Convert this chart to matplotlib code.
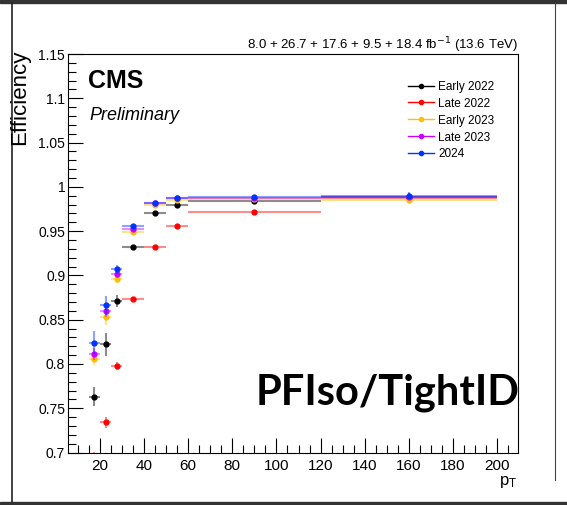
import numpy as np
import matplotlib
matplotlib.use('Agg')
from matplotlib import pyplot as plt
from matplotlib.lines import Line2D
from matplotlib.patches import Rectangle
from matplotlib.ticker import MultipleLocator

plt.rcParams['font.family'] = ['Liberation Sans', 'DejaVu Sans']

# pT bins
bin_edges = [15, 20, 25, 30, 40, 50, 60, 120, 200]

labels = ['Early 2022', 'Late 2022', 'Early 2023', 'Late 2023', '2024']
colors = ['#000000', '#ff0000', '#ffc000', '#cc00ff', '#0033ff']

early_2022 = [0.763, 0.822, 0.871, 0.932, 0.971, 0.980, 0.984, 0.989]
late_2022 = [0.685, 0.734, 0.798, 0.873, 0.932, 0.956, 0.9715, 0.987]
early_2023 = [0.806, 0.853, 0.896, 0.9485, 0.980, 0.985, 0.986, 0.985]
late_2023 = [0.811, 0.860, 0.902, 0.952, 0.982, 0.987, 0.987, 0.989]
y2024 = [0.824, 0.866, 0.907, 0.9555, 0.982, 0.987, 0.988, 0.990]

err_early_2022 = [0.011, 0.0125, 0.0064, 0.002, 0.002, 0.002, 0.0015, 0.004]
err_late_2022 = [0.016, 0.0066, 0.0047, 0.002, 0.002, 0.002, 0.0015, 0.004]
err_early_2023 = [0.0075, 0.0085, 0.005, 0.002, 0.002, 0.002, 0.0015, 0.004]
err_late_2023 = [0.0066, 0.0066, 0.0045, 0.002, 0.002, 0.002, 0.0015, 0.004]
err_2024 = [0.013, 0.011, 0.005, 0.002, 0.002, 0.002, 0.0015, 0.004]

series = [early_2022, late_2022, early_2023, late_2023, y2024]
errors = [err_early_2022, err_late_2022, err_early_2023, err_late_2023, err_2024]

edges = np.array(bin_edges, dtype=float)
centers = (edges[:-1] + edges[1:]) / 2
half_w = (edges[1:] - edges[:-1]) / 2

fig = plt.figure(figsize=(5.67, 5.05), dpi=100)

# screenshot frame
fig.add_artist(Rectangle((0, 1 - 3 / 505), 1, 3 / 505, transform=fig.transFigure, color='#333333'))
fig.add_artist(Rectangle((0, 0), 1, 3 / 505, transform=fig.transFigure, color='#333333'))
fig.add_artist(Line2D([12 / 567, 12 / 567], [3 / 505, 1 - 3 / 505], transform=fig.transFigure,
                      color='#222222', lw=1.2))
fig.add_artist(Line2D([555 / 567, 555 / 567], [1 - 480 / 505, 1 - 3 / 505], transform=fig.transFigure,
                      color='#444444', lw=0.8))

ax = fig.add_axes([68 / 567, 1 - 452.5 / 505, 450 / 567, 398.5 / 505])

for vals, errs, col, lab in zip(series, errors, colors, labels):
    ax.errorbar(centers, vals, xerr=half_w, yerr=errs, fmt='none', ecolor=col,
                elinewidth=1.5, alpha=0.45, capsize=0)
    ax.plot(centers, vals, 'o', color=col, ms=3.5, mec=col)

ax.set_xlim(5.5, 209.5)
ax.set_ylim(0.7, 1.15)

ax.xaxis.set_major_locator(MultipleLocator(20))
ax.xaxis.set_minor_locator(MultipleLocator(5))
ax.yaxis.set_major_locator(MultipleLocator(0.05))
ax.yaxis.set_minor_locator(MultipleLocator(0.01))
ax.tick_params(which='both', direction='in', top=False, right=False, width=0.8)
ax.tick_params(which='major', length=11)
ax.tick_params(which='minor', length=5.5)
ax.tick_params(axis='x', labelsize=11, pad=5)
ax.tick_params(axis='y', labelsize=10, pad=2)
ax.set_xticks([20, 40, 60, 80, 100, 120, 140, 160, 180, 200])
ax.set_xticklabels(['20', '40', '60', '80', '100', '120', '140', '160', '180', '200'])
ax.set_yticks([0.7, 0.75, 0.8, 0.85, 0.9, 0.95, 1.0, 1.05, 1.1, 1.15])
ax.set_yticklabels(['0.7', '0.75', '0.8', '0.85', '0.9', '0.95', '1', '1.05', '1.1', '1.15'])
for s in ax.spines.values():
    s.set_linewidth(0.8)

fig.text(20 / 567, 1 - 50 / 505, 'Efficiency', rotation=90, ha='center', va='top', fontsize=16)
fig.text(508 / 567, 1 - 485 / 505, r'$\mathregular{p_{T}}$', ha='center', va='baseline', fontsize=12)

fig.text(518 / 567, 1 - 49 / 505, r'8.0 + 26.7 + 17.6 + 9.5 + 18.4 fb$^{-1}$ (13.6 TeV)',
         ha='right', va='baseline', fontsize=9.5)
fig.text(88 / 567, 1 - 88 / 505, 'CMS', fontsize=18, fontweight='bold', ha='left', va='baseline')
fig.text(89 / 567, 1 - 120 / 505, 'Preliminary', fontsize=13, fontstyle='italic', ha='left', va='baseline')

fig.text(388 / 567, 1 - 405 / 505, 'PFIso/TightID', fontsize=30, fontweight='bold',
         family=['Lato', 'DejaVu Sans'], ha='center', va='baseline')

handles = [Line2D([], [], color=c, marker='o', ms=3, lw=1) for c in colors]
ax.legend(handles, labels, loc='upper left', bbox_to_anchor=(0.745, 0.945), frameon=False,
          fontsize=8.5, labelspacing=0.42, handlelength=2.2, handletextpad=0.35, borderaxespad=0)

fig.savefig('out.png', dpi=100)
